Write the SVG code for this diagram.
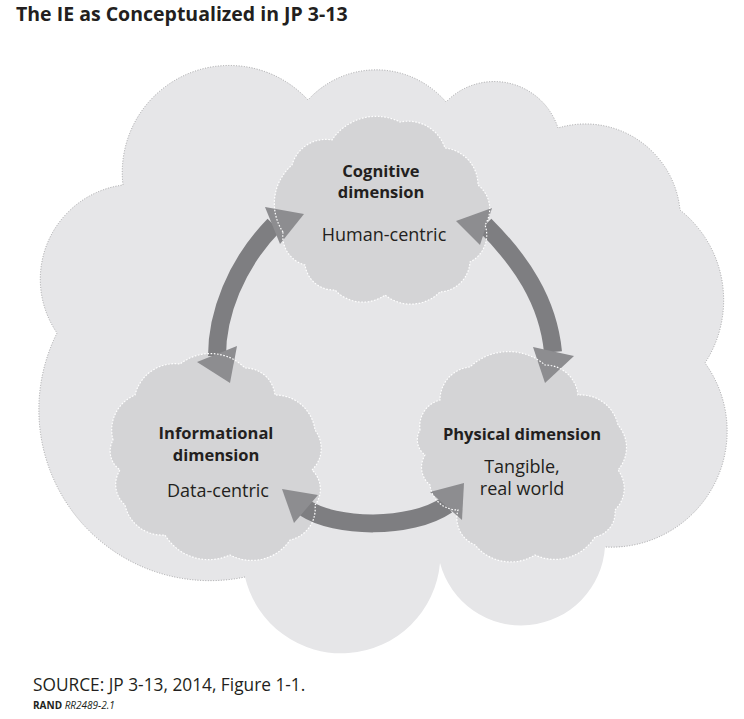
<svg xmlns="http://www.w3.org/2000/svg" width="744" height="719" viewBox="0 0 744 719">
<style>
.big{fill:#e6e6e8;stroke:none}
.bigedge{fill:none;stroke:#a3a3a5;stroke-width:1;stroke-dasharray:1 1.6}
.small{fill:#d4d4d6;stroke:none}
.edge{fill:none;stroke:#ffffff;stroke-width:1.2;stroke-dasharray:1.6 1.6}
.body{fill:none;stroke:#7e7e81;stroke-width:18;stroke-linecap:butt}
.head{fill:#8d8d90;stroke:none}
text{font-family:"Open Sans","Noto Sans","Liberation Sans",sans-serif;fill:#231f20}
.b{font-weight:bold;font-size:16.5px;text-anchor:middle}
.r{font-size:18px;text-anchor:middle}
</style>
<rect width="744" height="719" fill="#ffffff"/>
<text x="16" y="21" style="font-weight:bold;font-size:19.5px">The IE as Conceptualized in JP 3-13</text>

<g id="information-environment">
<path class="big" d="M123,185 A107,107 0 0 1 308,100 A92,92 0 0 1 446,102 A67,67 0 0 1 558,128 A95,95 0 0 1 680,210 A115,115 0 0 1 705,363 A116,116 0 0 1 605,547 A84,84 0 0 1 440,563 A99,99 0 0 1 245,577 A171,171 0 0 1 57,333 A95,95 0 0 1 123,185 Z"/>
<path class="bigedge" d="M245,577 A171,171 0 0 1 57,333 A95,95 0 0 1 123,185 A107,107 0 0 1 308,100 A92,92 0 0 1 446,102 A67,67 0 0 1 558,128 A95,95 0 0 1 680,210 A115,115 0 0 1 705,363 A116,116 0 0 1 605,547"/>
</g>

<g id="cognitive">
<path class="small" d="M283,232 A51,51 0 0 1 292,165 A35,35 0 0 1 332,140 A53,53 0 0 1 400,122 A39,39 0 0 1 445,148 A37,37 0 0 1 478,185 A30,30 0 0 1 485,225 A30,30 0 0 1 470,262 A32,32 0 0 1 440,292 A41,41 0 0 1 385,295 A38,38 0 0 1 335,290 A29,29 0 0 1 305,265 A30,30 0 0 1 283,232 Z"/>
<text class="b" x="381" y="177">Cognitive</text>
<text class="b" x="381" y="198">dimension</text>
<text class="r" x="384" y="241">Human-centric</text>
</g>

<g id="informational">
<path class="small" d="M113,440 A38,38 0 0 1 135,395 A41,41 0 0 1 180,364 A49,49 0 0 1 245,368 A30,30 0 0 1 275,395 A40,40 0 0 1 315,430 A30,30 0 0 1 312,470 A26,26 0 0 1 315,505 A32,32 0 0 1 290,540 A46,46 0 0 1 230,555 A51,51 0 0 1 165,535 A38,38 0 0 1 125,505 A27,27 0 0 1 120,470 A23,23 0 0 1 113,440 Z"/>
<text class="b" x="216" y="439">Informational</text>
<text class="b" x="216" y="461">dimension</text>
<text class="r" x="218" y="497">Data-centric</text>
</g>

<g id="physical">
<path class="small" d="M420,430 A27,27 0 0 1 440,400 A33,33 0 0 1 470,367 A56,56 0 0 1 545,365 A33,33 0 0 1 578,395 A38,38 0 0 1 618,425 A34,34 0 0 1 618,470 A30,30 0 0 1 615,510 A25,25 0 0 1 595,537 A47,47 0 0 1 535,555 A46,46 0 0 1 475,545 A29,29 0 0 1 458,510 A28,28 0 0 1 430,485 A23,23 0 0 1 425,455 A19,19 0 0 1 420,430 Z"/>
<text class="b" x="522" y="440">Physical dimension</text>
<text class="r" x="522" y="473">Tangible,</text>
<text class="r" x="522" y="495">real world</text>
</g>

<g id="connectors">
<path class="body" d="M217,356 C217,315 235,265 274,225"/>
<path class="body" d="M485,225 C520,260 548,300 553,352"/>
<path class="body" d="M305,508 C335,528 410,530 447,505"/>
<polygon class="head" points="265,207 304,214 280,244"/>
<polygon class="head" points="197,362 237,346 230,383"/>
<polygon class="head" points="456,221 492,208 480,245"/>
<polygon class="head" points="533,347 574,356 545,383"/>
<polygon class="head" points="282,489 318,495 294,523"/>
<polygon class="head" points="430,492 464,483 462,520"/>
</g>

<g id="cloud-edges">
<path class="edge" d="M283,232 A51,51 0 0 1 292,165 A35,35 0 0 1 332,140 A53,53 0 0 1 400,122 A39,39 0 0 1 445,148 A37,37 0 0 1 478,185 A30,30 0 0 1 485,225 A30,30 0 0 1 470,262 A32,32 0 0 1 440,292 A41,41 0 0 1 385,295 A38,38 0 0 1 335,290 A29,29 0 0 1 305,265 A30,30 0 0 1 283,232 Z"/>
<path class="edge" d="M113,440 A38,38 0 0 1 135,395 A41,41 0 0 1 180,364 A49,49 0 0 1 245,368 A30,30 0 0 1 275,395 A40,40 0 0 1 315,430 A30,30 0 0 1 312,470 A26,26 0 0 1 315,505 A32,32 0 0 1 290,540 A46,46 0 0 1 230,555 A51,51 0 0 1 165,535 A38,38 0 0 1 125,505 A27,27 0 0 1 120,470 A23,23 0 0 1 113,440 Z"/>
<path class="edge" d="M420,430 A27,27 0 0 1 440,400 A33,33 0 0 1 470,367 A56,56 0 0 1 545,365 A33,33 0 0 1 578,395 A38,38 0 0 1 618,425 A34,34 0 0 1 618,470 A30,30 0 0 1 615,510 A25,25 0 0 1 595,537 A47,47 0 0 1 535,555 A46,46 0 0 1 475,545 A29,29 0 0 1 458,510 A28,28 0 0 1 430,485 A23,23 0 0 1 425,455 A19,19 0 0 1 420,430 Z"/>
</g>

<text x="33" y="691" style="font-size:17.3px">SOURCE: JP 3-13, 2014, Figure 1-1.</text>
<text x="33" y="709" style="font-size:10px"><tspan style="font-weight:bold">RAND</tspan> <tspan style="font-style:italic">RR2489-2.1</tspan></text>
</svg>
